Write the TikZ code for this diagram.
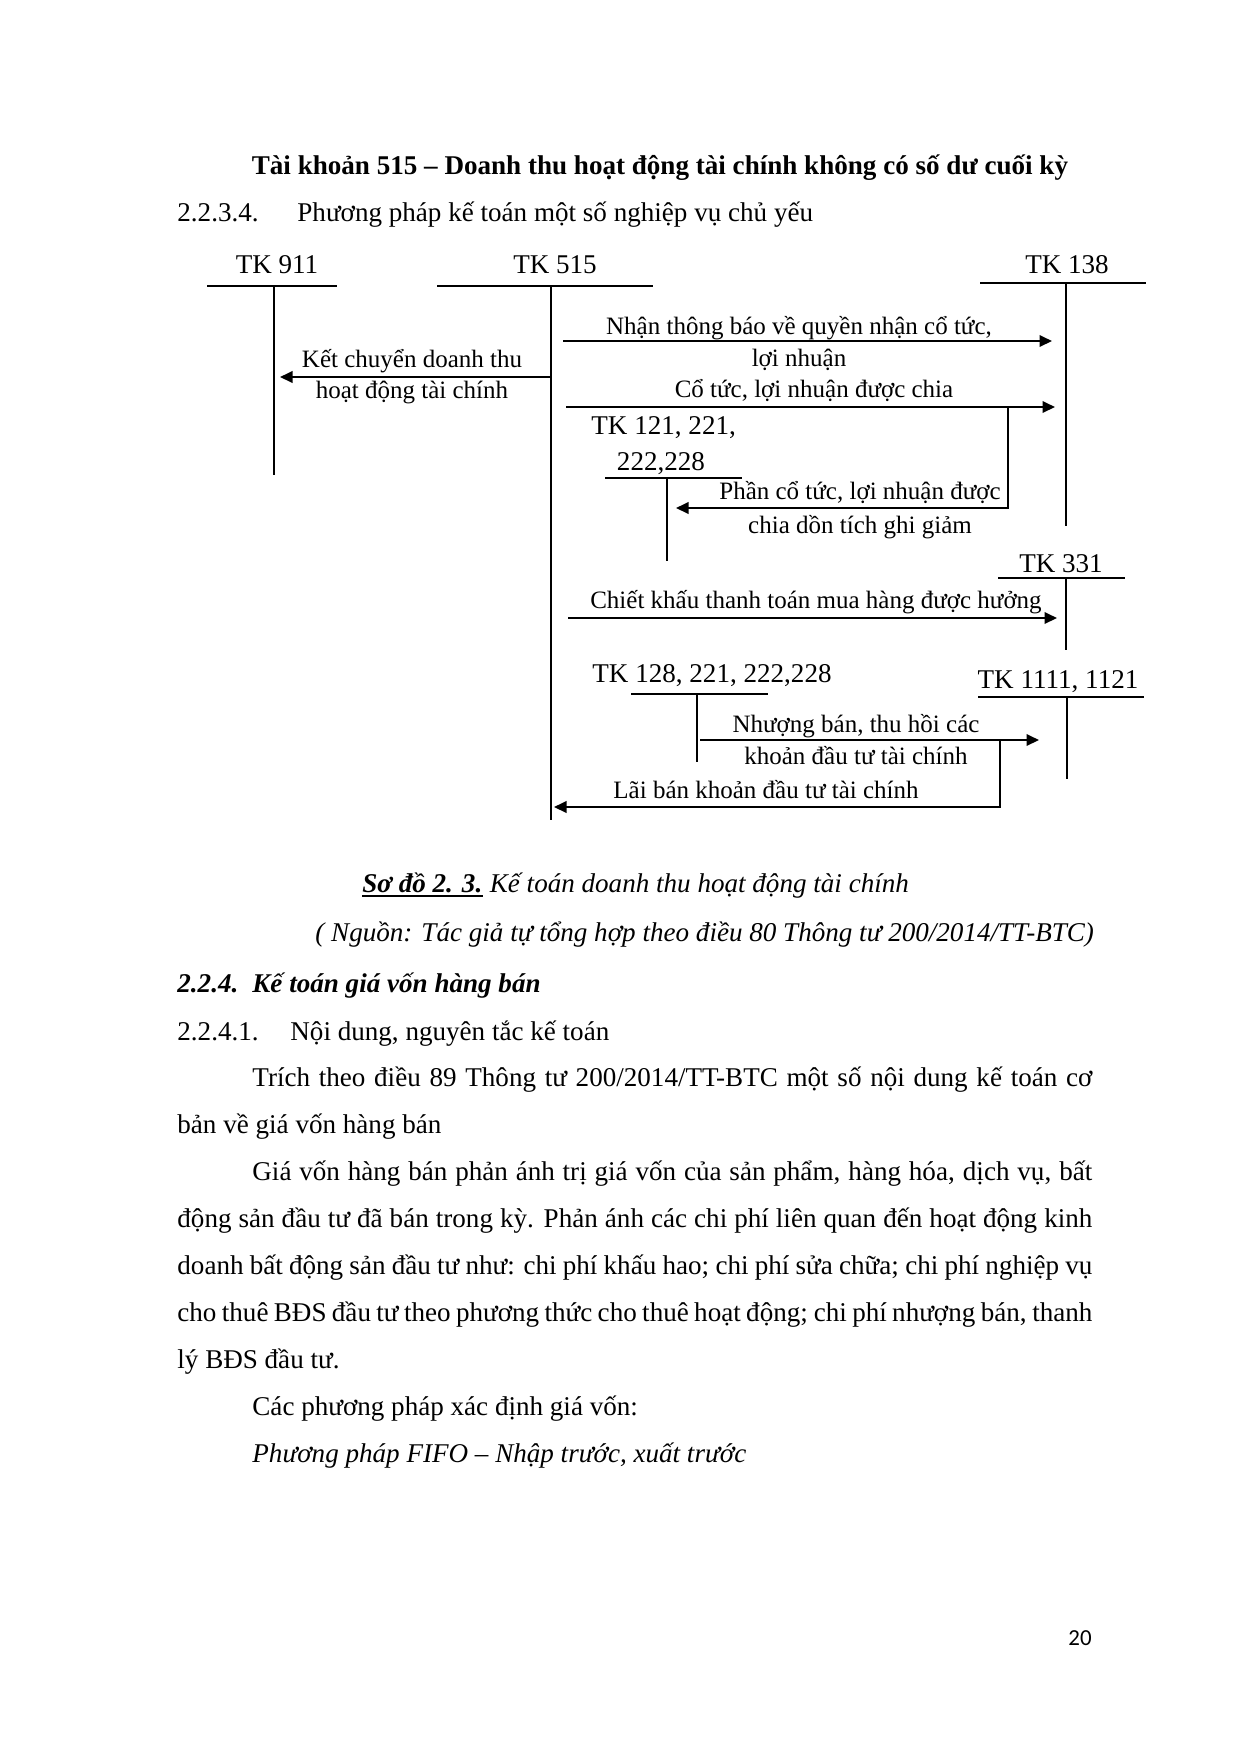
\documentclass[tikz,border=0pt]{standalone}
\usepackage{fontspec}
\setmainfont{Liberation Serif}
\newfontfamily\pnfont{Carlito}
\usetikzlibrary{arrows.meta}
\newlength\pxu \setlength\pxu{0.48pt}
\begin{document}
\begin{tikzpicture}[x=0.48pt,y=-0.48pt,
  acct/.style={line width=1pt},
  flow/.style={line width=1pt,-{Triangle[length=6pt,width=5.5pt]}},
  lbl/.style={font=\fontsize{12}{14}\selectfont,inner sep=0pt,anchor=base},
  tklbl/.style={font=\fontsize{13}{15}\selectfont,inner sep=0pt,anchor=base},
  body/.style={font=\fontsize{13}{15}\selectfont,inner sep=0pt,anchor=base west},
  bodyc/.style={font=\fontsize{13}{15}\selectfont,inner sep=0pt,anchor=base}]
\useasboundingbox[fill=white] (0,0) rectangle (1240,1754);

% ---------- text above the diagram ----------
\node[bodyc] (title) at (660,174) {\bfseries Tài khoản 515 – Doanh thu hoạt động tài chính không có số dư cuối kỳ};
\node[body] (s2234n) at (177,221) {2.2.3.4.};
\node[body] (s2234t) at (297,221) {Phương pháp kế toán một số nghiệp vụ chủ yếu};

% ---------- T accounts ----------
% TK 911
\node[tklbl] (l911) at (277,273) {TK 911};
\coordinate (a911L) at (207,286); \coordinate (a911R) at (337,286);
\coordinate (a911T) at (274,286); \coordinate (a911B) at (274,475);
\draw[acct] (a911L) -- (a911R) (a911T) -- (a911B);
% TK 515
\node[tklbl] (l515) at (555,273) {TK 515};
\coordinate (a515L) at (437,286); \coordinate (a515R) at (653,286);
\coordinate (a515T) at (551,286); \coordinate (a515B) at (551,820);
\draw[acct] (a515L) -- (a515R) (a515T) -- (a515B);
% TK 138
\node[tklbl] (l138) at (1067,273) {TK 138};
\coordinate (a138L) at (980,283); \coordinate (a138R) at (1146,283);
\coordinate (a138T) at (1066,283); \coordinate (a138B) at (1066,526);
\draw[acct] (a138L) -- (a138R) (a138T) -- (a138B);
% TK 121, 221, 222,228
\node[tklbl,anchor=base west] (l121a) at (591,434) {TK 121, 221,};
\node[tklbl] (l121b) at (661,470) {222,228};
\coordinate (a121L) at (605,478); \coordinate (a121R) at (742,478);
\coordinate (a121T) at (667,478); \coordinate (a121B) at (667,561);
\draw[acct] (a121L) -- (a121R) (a121T) -- (a121B);
% TK 331
\node[tklbl] (l331) at (1061,572) {TK 331};
\coordinate (a331L) at (998,578); \coordinate (a331R) at (1125,578);
\coordinate (a331T) at (1066,578); \coordinate (a331B) at (1066,650);
\draw[acct] (a331L) -- (a331R) (a331T) -- (a331B);
% TK 128, 221, 222,228
\node[tklbl] (l128) at (712,682) {TK 128, 221, 222,228};
\coordinate (a128L) at (631,694); \coordinate (a128R) at (768,694);
\coordinate (a128T) at (697,694); \coordinate (a128B) at (697,762);
\draw[acct] (a128L) -- (a128R) (a128T) -- (a128B);
% TK 1111, 1121
\node[tklbl] (l1111) at (1058,688) {TK 1111, 1121};
\coordinate (a1111L) at (978,697); \coordinate (a1111R) at (1144,697);
\coordinate (a1111T) at (1067,697); \coordinate (a1111B) at (1067,779);
\draw[acct] (a1111L) -- (a1111R) (a1111T) -- (a1111B);

% ---------- entries ----------
% Kết chuyển
\coordinate (k1s) at (551,377); \coordinate (k1e) at (280,377);
\draw[flow] (k1s) -- (k1e);
\node[lbl] (k1a) at (412,367) {Kết chuyển doanh thu};
\node[lbl] (k1b) at (412,398) {hoạt động tài chính};
% Nhận thông báo
\coordinate (e1s) at (563,341); \coordinate (e1e) at (1052,341);
\draw[flow] (e1s) -- (e1e);
\node[lbl] (e1a) at (799,334) {Nhận thông báo về quyền nhận cổ tức,};
\node[lbl] (e1b) at (799,366) {lợi nhuận};
% Cổ tức được chia
\coordinate (e2s) at (566,407); \coordinate (e2e) at (1055,407);
\draw[flow] (e2s) -- (e2e);
\node[lbl] (e2a) at (814,397) {Cổ tức, lợi nhuận được chia};
% Phần cổ tức dồn tích
\coordinate (e3s) at (1008,407); \coordinate (e3c) at (1008,508); \coordinate (e3e) at (676,508);
\draw[flow] (e3s) -- (e3c) -- (e3e);
\node[lbl] (e3a) at (860,499) {Phần cổ tức, lợi nhuận được};
\node[lbl] (e3b) at (860,533) {chia dồn tích ghi giảm};
% Chiết khấu
\coordinate (e4s) at (568,618); \coordinate (e4e) at (1057,618);
\draw[flow] (e4s) -- (e4e);
\node[lbl] (e4a) at (816,608) {Chiết khấu thanh toán mua hàng được hưởng};
% Nhượng bán
\coordinate (e5s) at (700,740); \coordinate (e5e) at (1039,740);
\draw[flow] (e5s) -- (e5e);
\node[lbl] (e5a) at (856,732) {Nhượng bán, thu hồi các};
\node[lbl] (e5b) at (856,764) {khoản đầu tư tài chính};
% Lãi bán
\coordinate (e6s) at (1000,740); \coordinate (e6c) at (1000,807); \coordinate (e6e) at (554,807);
\draw[flow] (e6s) -- (e6c) -- (e6e);
\node[lbl] (e6a) at (766,798) {Lãi bán khoản đầu tư tài chính};

% ---------- caption and text below ----------
\node[body] (capA) at (362,892) {\bfseries\itshape Sơ đồ 2. 3.};
\node[body] (capB) at (capA.base east) {\itshape\ Kế toán doanh thu hoạt động tài chính};
\draw[line width=1.2pt] ([yshift=-1.8pt]capA.base west) -- ([yshift=-1.8pt]capA.base east);
\node[body] (src) at (315,941) {\itshape ( Nguồn: Tác giả tự tổng hợp theo điều 80 Thông tư 200/2014/TT-BTC)};
\node[body] (h224n) at (177,992) {\bfseries\itshape 2.2.4.};
\node[body] (h224t) at (252,992) {\bfseries\itshape Kế toán giá vốn hàng bán};
\node[body] (h2241n) at (177,1040) {2.2.4.1.};
\node[body] (h2241t) at (290,1040) {Nội dung, nguyên tắc kế toán};
\node[body] (p1) at (252,1086) {\makebox[840\pxu][s]{Trích theo điều 89 Thông tư 200/2014/TT-BTC một số nội dung kế toán cơ}};
\node[body] (p2) at (177,1133) {bản về giá vốn hàng bán};
\node[body] (p3) at (252,1180) {\makebox[840\pxu][s]{Giá vốn hàng bán phản ánh trị giá vốn của sản phẩm, hàng hóa, dịch vụ, bất}};
\node[body] (p4) at (177,1227) {\makebox[915\pxu][s]{động sản đầu tư đã bán trong kỳ. Phản ánh các chi phí liên quan đến hoạt động kinh}};
\node[body] (p5) at (177,1274) {\makebox[915\pxu][s]{doanh bất động sản đầu tư như: chi phí khấu hao; chi phí sửa chữa; chi phí nghiệp vụ}};
\node[body] (p6) at (177,1321) {\makebox[915\pxu][s]{cho thuê BĐS đầu tư theo phương thức cho thuê hoạt động; chi phí nhượng bán, thanh}};
\node[body] (p7) at (177,1368) {lý BĐS đầu tư.};
\node[body] (p8) at (252,1415) {Các phương pháp xác định giá vốn:};
\node[body] (p9) at (252,1462) {\itshape Phương pháp FIFO – Nhập trước, xuất trước};
\node[inner sep=0pt,anchor=base,font=\pnfont\fontsize{11}{13}\selectfont] (pg) at (1080,1645) {20};
\end{tikzpicture}
\end{document}
